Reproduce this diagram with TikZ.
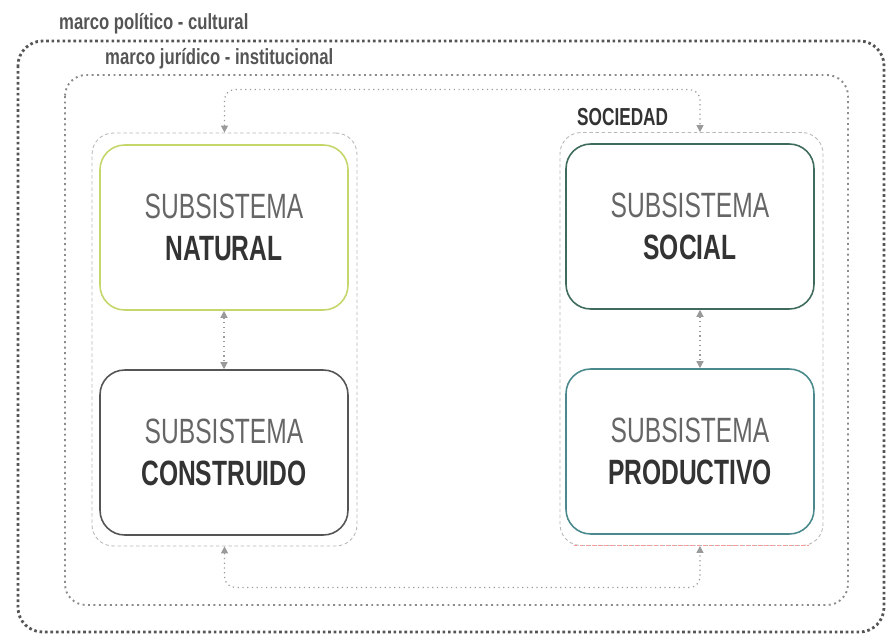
\documentclass[tikz,border=0pt]{standalone}
\usepackage{fontspec}
\setmainfont[FakeStretch=0.7]{Liberation Sans}
\newfontfamily\framefont[FakeStretch=0.76]{Liberation Sans}
\usetikzlibrary{arrows.meta,calc}

\definecolor{txtgray}{HTML}{666666}
\definecolor{darktxt}{HTML}{333333}
\definecolor{natcol}{HTML}{C5D66A}
\definecolor{concol}{HTML}{555555}
\definecolor{soccol}{HTML}{3F6B5E}
\definecolor{procol}{HTML}{4A8A8C}
\definecolor{linkgray}{HTML}{9A9A9A}

\tikzset{
  subbox/.style={draw, line width=0.9pt, rounded corners=14pt, fill=white,
    minimum width=4.96cm, minimum height=3.3cm, align=center,
    font=\fontsize{20}{23.5}\selectfont},
  groupframe/.style={draw=linkgray!70, line width=0.5pt, dash pattern=on 2pt off 1.5pt,
    rounded corners=12pt, minimum width=5.3cm, minimum height=8.26cm},
  link/.style={draw=linkgray, line width=0.7pt, dotted, rounded corners=6pt,
    {Triangle[length=4pt,width=4pt]}-{Triangle[length=4pt,width=4pt]}},
  framelabel/.style={anchor=west, text=concol, font=\framefont\bfseries\fontsize{12.5}{15}\selectfont},
}
\newcommand{\subname}[1]{{\color{txtgray}SUBSISTEMA}\\{\color{darktxt}\bfseries #1}}

\begin{document}
\begin{tikzpicture}[x=0.02cm,y=-0.02cm]
\useasboundingbox (0,0) rectangle (886,636);

% marcos
\draw[concol, line width=1.6pt, dash pattern=on 1.5pt off 1.6pt, rounded corners=14pt] (18,41) rectangle (884,632);
\draw[linkgray!90!black, line width=1.1pt, dotted, rounded corners=12pt] (65,75) rectangle (848,605);
\node[framelabel] (mpc) at (53,24) {marco político - cultural};
\node[framelabel] (mji) at (99,59) {marco jurídico - institucional};

% grupos
\node[groupframe] (lgrp) at (224.5,339.5) {};
\node[groupframe, minimum width=5.26cm] (rgrp) at (691.5,339) {};
\draw[red!40, line width=0.5pt, dash pattern=on 2pt off 1.5pt] ($(rgrp.south west)+(14,0)$) -- ($(rgrp.south east)+(-14,0)$);
\node[anchor=west, text=darktxt, font=\bfseries\fontsize{14}{15}\selectfont] (soclbl) at (571,117) {SOCIEDAD};

% subsistemas
\node[subbox, draw=natcol] (nat) at (224,227.5) {\subname{NATURAL}};
\node[subbox, draw=concol] (con) at (224,452.5) {\subname{CONSTRUIDO}};
\node[subbox, draw=soccol] (soc) at (690,226.5) {\subname{SOCIAL}};
\node[subbox, draw=procol] (pro) at (690,451.5) {\subname{PRODUCTIVO}};

% relaciones
\draw[link] (lgrp.north) -- ++(0,-43) -| ($(rgrp.north)+(8.5,0)$);
\draw[link] (lgrp.south) -- ++(0,41) -| ($(rgrp.south)+(8.5,0)$);
\draw[link] (nat) -- (con);
\draw[link] ($(soc.south)+(10,0)$) -- ($(pro.north)+(10,0)$);

\end{tikzpicture}
\end{document}
